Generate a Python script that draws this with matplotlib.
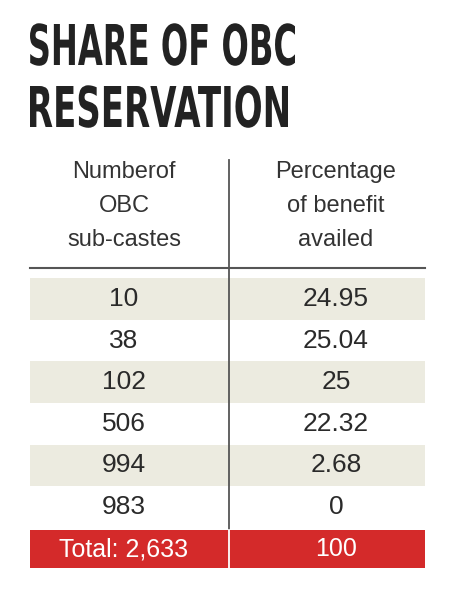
import matplotlib
matplotlib.use("Agg")
import matplotlib.pyplot as plt
from matplotlib.patches import Rectangle, PathPatch
from matplotlib.textpath import TextPath
from matplotlib.font_manager import FontProperties
from matplotlib.transforms import Affine2D

title_lines = ["SHARE OF OBC", "RESERVATION"]
col_headers = [["Numberof", "OBC", "sub-castes"], ["Percentage", "of benefit", "availed"]]
subcastes = ["10", "38", "102", "506", "994", "983"]
benefit = ["24.95", "25.04", "25", "22.32", "2.68", "0"]
total_label = ["Total: 2,633", "100"]

fig = plt.figure(figsize=(4.5, 5.91), dpi=100)
ax = fig.add_axes([0, 0, 1, 1])
ax.set_xlim(0, 450); ax.set_ylim(591, 0); ax.axis("off")

fp = FontProperties(family="DejaVu Sans", weight="bold")
for txt, ybase, target_w in [(title_lines[0], 65, 265), (title_lines[1], 127, 258)]:
    tp = TextPath((0, 0), txt, size=100, prop=fp)
    bb = tp.get_extents()
    capH = TextPath((0, 0), "H", size=100, prop=fp).get_extents().height
    sx = target_w / bb.width
    sy = 41 / capH
    tr = Affine2D().translate(-bb.x0, 0).scale(sx, -sy).translate(30, ybase)
    ax.add_patch(PathPatch(tr.transform_path(tp), color="#222222", lw=0))

L, R, D = 30, 425, 229
c1, c2 = 124, 336
for col, cx in zip(col_headers, [c1, c2]):
    for j, line in enumerate(col):
        ax.text(cx, 172 + 34 * j, line, ha="center", va="center", fontsize=17, color="#333333", family="Liberation Sans")
ax.plot([L, R], [268, 268], color="#555555", lw=1.5)

top, bot = 278, 528
h = (bot - top) / len(subcastes)
for i, (a, b) in enumerate(zip(subcastes, benefit)):
    y0 = top + i * h
    if i % 2 == 0:
        ax.add_patch(Rectangle((L, y0), R - L, h, color="#ecebe0", lw=0))
    ax.text(c1, y0 + h / 2, a, ha="center", va="center", fontsize=19, color="#2a2a2a", family="Liberation Sans")
    ax.text(c2, y0 + h / 2, b, ha="center", va="center", fontsize=19, color="#2a2a2a", family="Liberation Sans")

ax.add_patch(Rectangle((L, 530), R - L, 38, color="#d42a2a", lw=0))
ax.plot([D, D], [160, 530], color="#555555", lw=1.3)
ax.plot([D, D], [530, 568], color="white", lw=1.3)
ax.text(c1, 549, total_label[0], ha="center", va="center", fontsize=18, color="white", family="Liberation Sans")
ax.text(c2, 549, total_label[1], ha="center", va="center", fontsize=18, color="white", family="Liberation Sans")

fig.savefig("out.png", dpi=100, facecolor="white")
